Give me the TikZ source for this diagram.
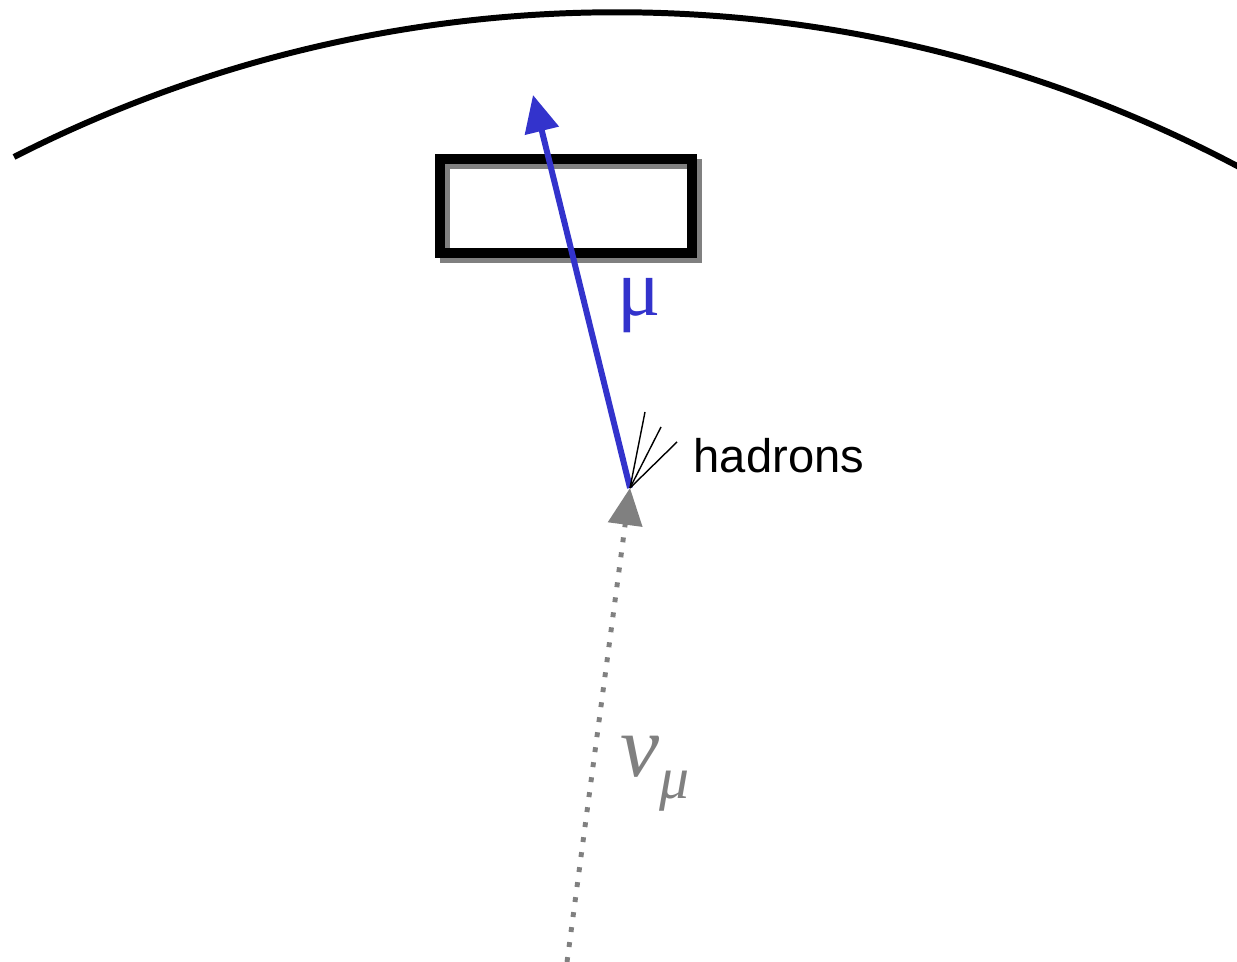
\documentclass[tikz,border=0pt]{standalone}
\usepackage{fontspec}
\setmainfont{Liberation Sans}
\newfontfamily\greekfont{Liberation Serif}
\usetikzlibrary{arrows.meta,shadows}
\definecolor{muonblue}{RGB}{51,51,204}
\definecolor{nugray}{RGB}{128,128,128}

\begin{document}
\begin{tikzpicture}[x=0.01cm,y=0.01cm,
    detbox/.style={draw,line width=2.8pt,minimum width=2.52cm,minimum height=0.94cm,inner sep=0pt,
        drop shadow={shadow xshift=0.05cm,shadow yshift=-0.05cm,fill=none,draw=nugray,line width=2.8pt,opacity=1}},
    muon/.style={muonblue,line width=1.7pt,-{Triangle[length=10.5pt,width=9.6pt]}},
    neutrino/.style={nugray,line width=1.4pt,dash pattern=on 1.4pt off 2.9pt,-{Triangle[length=10.5pt,width=9.6pt]}},
    hadron/.style={line width=0.4pt}]
    \useasboundingbox (0,0) rectangle (1237,962);

    % Earth surface
    \draw[line width=1.7pt] (14,805) arc[start angle=117,end angle=62,radius=1328];

    % Detector
    \node[detbox] (det) at (566,756) {};

    % Vertex and track ends
    \coordinate (vtx) at (630,474);
    \coordinate (nuin) at (567,0);
    \coordinate (muout) at (533,867);

    % Neutrino in, muon out
    \draw[neutrino] (nuin) -- (vtx);
    \draw[muon] (vtx) -- (muout);

    % Hadrons
    \foreach \x/\y in {645/550,661/535,677/520} {
        \draw[hadron] (vtx) -- (\x,\y);
    }

    % Labels
    \node[muonblue,font=\greekfont\fontsize{23}{23}\selectfont] (mulabel) at (639,656) {μ};
    \node[anchor=base west,inner sep=0pt,font=\fontsize{13.4}{16}\selectfont] (hadlabel) at (693,489) {hadrons};
    \node[anchor=base west,inner sep=0pt,nugray,font=\greekfont\itshape\fontsize{25}{25}\selectfont] (nulabel) at (620,185)
        {ν\raisebox{-0.24em}{\fontsize{17}{17}\selectfont μ}};
\end{tikzpicture}
\end{document}
